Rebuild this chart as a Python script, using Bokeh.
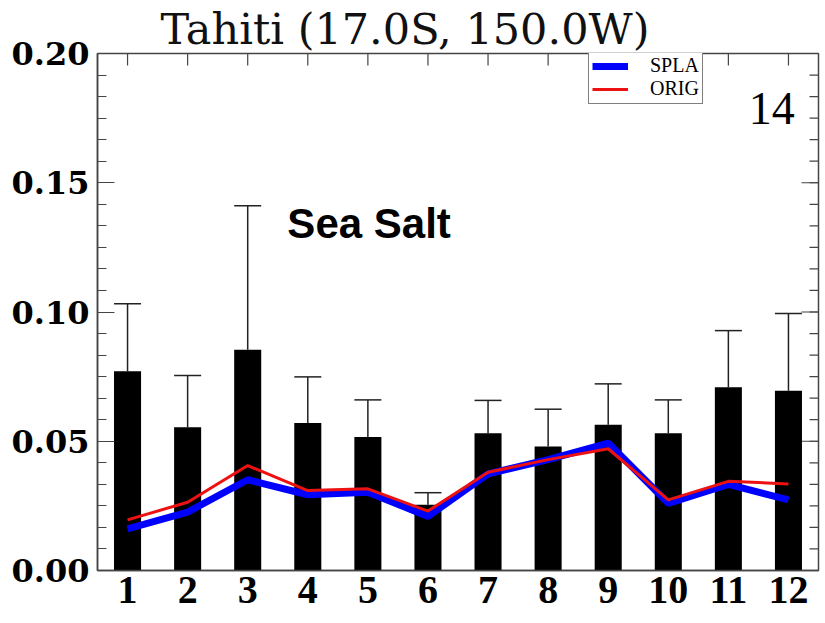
import math
from bokeh.plotting import figure
from bokeh.models import (Range1d, LinearAxis, FixedTicker, Whisker, ColumnDataSource,
                          Label, Legend, LegendItem, TeeHead, Title)
from bokeh.embed import file_html
from bokeh.resources import INLINE

# ---- data ----
months = [1, 2, 3, 4, 5, 6, 7, 8, 9, 10, 11, 12]
month_labels = ["1", "2", "3", "4", "5", "6", "7", "8", "9", "10", "11", "12"]
obs_mean = [0.0771, 0.0554, 0.0854, 0.0571, 0.0516, 0.0254, 0.0531, 0.0480, 0.0564, 0.0531, 0.0709, 0.0695]
obs_upper = [0.1032, 0.0754, 0.1411, 0.0749, 0.0660, 0.0301, 0.0658, 0.0624, 0.0722, 0.0660, 0.0928, 0.0994]
spla = [0.0161, 0.0226, 0.0351, 0.0293, 0.0303, 0.0209, 0.0374, 0.0429, 0.0493, 0.0260, 0.0333, 0.0273]
orig = [0.0196, 0.0264, 0.0406, 0.0309, 0.0316, 0.0230, 0.0380, 0.0429, 0.0471, 0.0273, 0.0345, 0.0335]
y_ticks = [0.0, 0.05, 0.10, 0.15, 0.20]
y_tick_labels = ["0.00", "0.05", "0.10", "0.15", "0.20"]
title_text = "Tahiti (17.0S, 150.0W)"
species = "Sea Salt"
station_no = "14"

X0, X1 = 0.5, 12.5
src = ColumnDataSource(dict(month=months, mean=obs_mean, upper=obs_upper, spla=spla, orig=orig))

AX = "#444444"

p = figure(width=823, height=620, output_backend="svg", toolbar_location=None,
           x_range=Range1d(X0, X1), y_range=Range1d(0.0, 0.2),
           x_axis_location=None, y_axis_location=None,
           min_border_left=97, min_border_right=5, min_border_top=53, min_border_bottom=50)
p.background_fill_color = "white"
p.border_fill_color = "white"
p.outline_line_color = AX
p.outline_line_width = 1.5
p.xgrid.visible = False
p.ygrid.visible = False

minor = [i * 0.05 / 6 for i in range(0, 25)]

left = LinearAxis(ticker=FixedTicker(ticks=y_ticks, minor_ticks=minor))
left.major_label_overrides = {t: l for t, l in zip(y_ticks, y_tick_labels)}
left.major_label_text_font = "DejaVu Serif"
left.major_label_text_font_style = "bold"
left.major_label_text_font_size = "32px"
left.major_label_text_color = "black"
left.major_label_standoff = 8
left.major_tick_in = 17
left.major_tick_out = 0
left.minor_tick_in = 9
left.minor_tick_out = 0
left.axis_line_color = AX
left.axis_line_width = 1.5
left.major_tick_line_color = AX
left.minor_tick_line_color = AX
left.major_tick_line_width = 1.2
left.minor_tick_line_width = 1.2
p.add_layout(left, "left")

bottom = LinearAxis(ticker=FixedTicker(ticks=months, minor_ticks=[]))
bottom.major_label_overrides = {m: l for m, l in zip(months, month_labels)}
bottom.major_label_text_font = "Liberation Serif"
bottom.major_label_text_font_style = "bold"
bottom.major_label_text_font_size = "40px"
bottom.major_label_text_color = "black"
bottom.major_label_standoff = 6
bottom.major_tick_in = 0
bottom.major_tick_out = 0
bottom.minor_tick_in = 0
bottom.minor_tick_out = 0
bottom.axis_line_color = AX
bottom.axis_line_width = 1.5
p.add_layout(bottom, "below")

# mirrored ticks on the right edge and top edge (drawn inward)
p.ray(x=[X1] * len(y_ticks), y=y_ticks, length=17, length_units="screen",
      angle=math.pi, line_color=AX, line_width=1.2)
p.ray(x=[X1] * len(minor), y=minor, length=9, length_units="screen",
      angle=math.pi, line_color=AX, line_width=1.2)
p.ray(x=months, y=[0.2] * len(months), length=12, length_units="screen",
      angle=-math.pi / 2, line_color=AX, line_width=1.2)

# bars
p.vbar(x="month", top="mean", width=0.45, bottom=0, source=src,
       fill_color="black", line_color=None)

# upper error bars
wh = Whisker(source=src, base="month", lower="mean", upper="upper", dimension="height",
             line_color="#222222", line_width=1.5,
             upper_head=TeeHead(size=27, line_color="#222222", line_width=1.5),
             lower_head=None)
p.add_layout(wh)

# model lines
r_spla = p.line(x="month", y="spla", source=src, line_color="#0000ff", line_width=7)
r_orig = p.line(x="month", y="orig", source=src, line_color="#ee1111", line_width=3)

legend = Legend(items=[LegendItem(label="SPLA", renderers=[r_spla]),
                       LegendItem(label="ORIG", renderers=[r_orig])],
                location=(491, 466), margin=0, padding=3, spacing=0,
                glyph_width=36, glyph_height=18, label_height=18, label_standoff=22,
                label_text_font="Liberation Serif", label_text_font_size="20px",
                label_text_color="black",
                border_line_color="black", border_line_width=1,
                background_fill_color="white", background_fill_alpha=1.0)
p.add_layout(legend)

p.add_layout(Title(text=title_text, align="left", offset=63, standoff=0,
                   text_font="DejaVu Serif", text_font_style="normal",
                   text_font_size="43px", text_color="#111111"), "above")

p.add_layout(Label(x=3.66, y=0.1342, text=species, text_align="left",
                   text_baseline="alphabetic", text_font="Liberation Sans",
                   text_font_style="bold", text_font_size="42px", text_color="black"))
p.add_layout(Label(x=11.72, y=0.1787, text=station_no, text_align="center",
                   text_baseline="alphabetic", text_font="Liberation Serif",
                   text_font_size="46px", text_color="black"))

open("out.html", "w").write(file_html(p, INLINE))
